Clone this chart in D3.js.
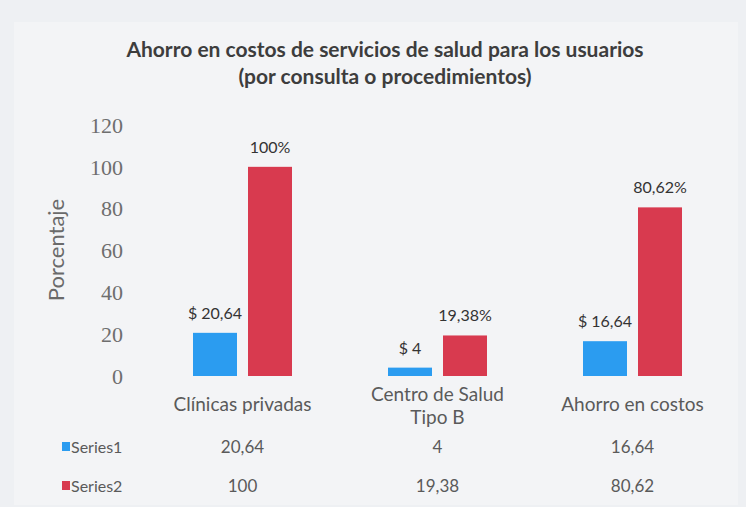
<!DOCTYPE html>
<html><head><meta charset="utf-8">
<script src="https://cdn.jsdelivr.net/npm/d3@7"></script>
<style>html,body{margin:0;padding:0;background:#eef0f3;} svg{display:block;}</style>
</head><body>
<svg id="chart" width="746" height="507"></svg>
<script>
const titleLines = ["Ahorro en costos de servicios de salud para los usuarios", "(por consulta o procedimientos)"];
const categories = ["Clínicas privadas", "Centro de Salud Tipo B", "Ahorro en costos"];
const seriesNames = ["Series1", "Series2"];
const series1 = [20.64, 4, 16.64];
const series2 = [100, 19.38, 80.62];
const yTicks = [0, 20, 40, 60, 80, 100, 120];
const yLabel = "Porcentaje";
const colors = ["#2b9cf0", "#d83a4f"];

const seriesValues = [series1, series2];
const comma = v => String(v).replace(".", ",");
const labelFmt = [v => "$ " + comma(v), v => comma(v) + "%"];
const FONT = "Lato, 'Open Sans', sans-serif";

const svg = d3.select("#chart");
const W = 746, H = 507;
svg.append("rect").attr("width", W).attr("height", H).attr("fill", "#eef0f3");
svg.append("rect").attr("x", 14).attr("y", 22).attr("width", W - 22).attr("height", H - 24).attr("fill", "#f3f4f6");

// title
svg.append("g").selectAll("text").data(titleLines).join("text")
  .attr("x", 385).attr("y", (d, i) => 57 + i * 27)
  .attr("text-anchor", "middle")
  .attr("font-family", FONT).attr("font-weight", "bold")
  .attr("font-size", 21).attr("fill", "#3d3d3d").text(d => d);

const x0 = d3.scaleBand().domain(categories).range([145, 730]);
const x1 = d3.scaleBand().domain(seriesNames).range([0, x0.bandwidth()]).paddingInner(0.2).paddingOuter(0.873);
const y = d3.scaleLinear().domain([0, 120]).range([376, 125]);

// y axis
const yAxis = svg.append("g").attr("transform", "translate(123,0)")
  .call(d3.axisLeft(y).tickValues(yTicks).tickSize(0).tickPadding(0));
yAxis.select(".domain").remove();
yAxis.selectAll("text").attr("font-family", "'Liberation Serif', 'DejaVu Serif', serif")
  .attr("font-size", 22).attr("fill", "#6e6e6e").attr("dy", "0.33em");

svg.append("text").attr("transform", "translate(64,250) rotate(-90)")
  .attr("text-anchor", "middle").attr("font-family", FONT)
  .attr("font-size", 22).attr("fill", "#6a6a6a").text(yLabel);

// bars
const rows = categories.map((c, i) => ({ c, vals: seriesNames.map((s, j) => ({ s, j, v: seriesValues[j][i] })) }));
const groups = svg.append("g").selectAll("g").data(rows).join("g")
  .attr("transform", d => `translate(${x0(d.c)},0)`);
groups.selectAll("rect").data(d => d.vals).join("rect")
  .attr("x", d => x1(d.s)).attr("width", x1.bandwidth())
  .attr("y", d => y(d.v)).attr("height", d => y(0) - y(d.v))
  .attr("fill", d => colors[d.j]);
groups.selectAll("text").data(d => d.vals).join("text")
  .attr("x", d => x1(d.s) + x1.bandwidth() / 2).attr("y", d => y(d.v) - 14)
  .attr("text-anchor", "middle").attr("font-family", FONT)
  .attr("font-size", 16).attr("fill", "#333").text(d => labelFmt[d.j](d.v));

// category labels (wrapped)
const catG = svg.append("g").selectAll("text").data(categories).join("text")
  .attr("x", d => x0(d) + x0.bandwidth() / 2).attr("y", 411)
  .attr("text-anchor", "middle").attr("font-family", FONT)
  .attr("font-size", 19).attr("fill", "#5a5a5a");
catG.each(function (d) {
  const t = d3.select(this);
  t.text(d);
  if (this.getComputedTextLength() > 170) {
    const words = d.split(" ");
    const l1 = words.slice(0, 3).join(" "), l2 = words.slice(3).join(" ");
    t.text(null);
    t.append("tspan").attr("x", t.attr("x")).attr("y", 401).text(l1);
    t.append("tspan").attr("x", t.attr("x")).attr("y", 424).text(l2);
  }
});

// data table
const tableY = [453, 492];
const tbl = svg.append("g");
seriesNames.forEach((s, j) => {
  tbl.append("rect").attr("x", 62).attr("y", tableY[j] - 11).attr("width", 8).attr("height", 9).attr("fill", colors[j]);
  tbl.append("text").attr("x", 71).attr("y", tableY[j]).attr("font-family", FONT)
    .attr("font-size", 16).attr("fill", "#5a5a5a").text(s);
  tbl.selectAll(null).data(seriesValues[j]).join("text")
    .attr("x", (d, i) => x0(categories[i]) + x0.bandwidth() / 2).attr("y", tableY[j])
    .attr("text-anchor", "middle").attr("font-family", FONT)
    .attr("font-size", 17).attr("fill", "#5a5a5a").text(d => comma(d));
});
</script>
</body></html>
